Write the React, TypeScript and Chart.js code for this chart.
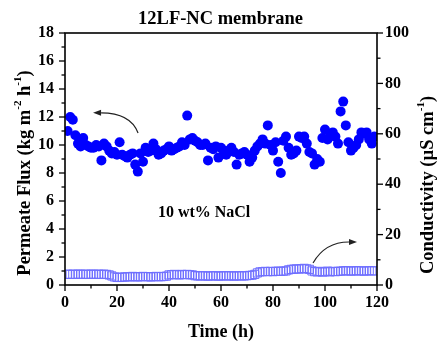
import React, { useEffect, useRef } from 'react';
import { Chart, registerables } from 'chart.js';

Chart.register(...registerables);

const TITLE = '12LF-NC membrane';
const X_TITLE = 'Time (h)';
const X_TICKS = [0, 20, 40, 60, 80, 100, 120];
const FLUX_TICKS = [0, 2, 4, 6, 8, 10, 12, 14, 16, 18];
const COND_TICKS = [0, 20, 40, 60, 80, 100];
const ANNOTATION = '10 wt% NaCl';

const hours = [
  1, 2, 3, 4, 5, 6, 7, 8, 9, 10, 11, 12, 13, 14, 15, 16, 17, 18, 19, 20,
  21, 22, 23, 24, 25, 26, 27, 28, 29, 30, 31, 32, 33, 34, 35, 36, 37, 38, 39, 40,
  41, 42, 43, 44, 45, 46, 47, 48, 49, 50, 51, 52, 53, 54, 55, 56, 57, 58, 59, 60,
  61, 62, 63, 64, 65, 66, 67, 68, 69, 70, 71, 72, 73, 74, 75, 76, 77, 78, 79, 80,
  81, 82, 83, 84, 85, 86, 87, 88, 89, 90, 91, 92, 93, 94, 95, 96, 97, 98, 99, 100,
  101, 102, 103, 104, 105, 106, 107, 108, 109, 110, 111, 112, 113, 114, 115, 116, 117, 118, 119,
];

const flux = [
  11.0, 12.0, 11.8, 10.7, 10.1, 9.9, 10.5, 10.0, 9.9, 9.8, 9.8, 10.0, 9.9, 8.9, 10.1, 9.9, 9.6, 9.4, 9.5, 9.3,
  10.2, 9.3, 9.2, 9.1, 9.3, 9.4, 8.6, 8.1, 9.4, 8.8, 9.8, 9.5, 9.6, 10.1, 9.7, 9.3, 9.4, 9.6, 9.7, 9.9,
  9.6, 9.7, 9.8, 9.9, 10.2, 10.0, 12.1, 10.4, 10.5, 10.3, 10.2, 10.0, 10.0, 10.1, 8.9, 9.8, 9.7, 9.9, 9.1, 9.8,
  9.6, 9.3, 9.6, 9.8, 9.5, 8.6, 9.3, 9.4, 9.5, 9.3, 8.8, 9.1, 9.6, 9.9, 10.1, 10.4, 10.1, 11.4, 10.0, 9.6,
  10.2, 8.8, 8.0, 10.3, 10.6, 9.8, 9.3, 9.4, 9.6, 10.6, 10.5, 10.6, 10.1, 9.5, 9.4, 8.6, 9.0, 8.8, 10.5, 11.1,
  10.4, 10.7, 10.9, 10.6, 10.1, 12.4, 13.1, 11.4, 10.2, 9.6, 9.8, 10.0, 10.4, 10.9, 10.8, 10.9, 10.4, 10.1, 10.6,
];

const conductivity = [
  4.3, 4.2, 4.3, 4.2, 4.3, 4.3, 4.2, 4.3, 4.2, 4.3, 4.3, 4.2, 4.3, 4.2, 4.3, 4.2, 4.0,
  3.6, 3.2, 3.0, 3.0,
  3.1, 3.2, 3.3, 3.2, 3.4, 3.3, 3.2, 3.3, 3.4, 3.3, 3.3, 3.2, 3.3, 3.4, 3.3, 3.3, 3.4, 3.5,
  4.0, 4.1, 4.2, 4.1, 4.0, 4.2, 4.1, 4.2, 4.1, 4.0,
  3.7, 3.6, 3.6, 3.7, 3.6, 3.5, 3.6, 3.7, 3.6, 3.5, 3.6, 3.7, 3.6, 3.6, 3.7, 3.5, 3.6, 3.7, 3.6, 3.6, 3.7, 3.8, 3.9, 4.2, 4.8,
  5.2, 5.3, 5.4, 5.3, 5.4, 5.3, 5.4, 5.5, 5.4, 5.5, 5.6,
  6.0, 6.2, 6.3, 6.4, 6.3, 6.5, 6.6, 6.4, 6.2,
  5.6, 5.3, 5.2, 5.4, 5.1, 5.3, 5.5, 5.2, 5.4, 5.3, 5.4, 5.5,
  5.6, 5.7, 5.6, 5.5, 5.6, 5.7, 5.6, 5.6, 5.5, 5.6, 5.7, 5.6, 5.6,
];

const FONT = '"Liberation Serif", "Times New Roman", serif';

type Seg = { t: string; sup?: boolean };
const LEFT_TITLE: Seg[] = [
  { t: 'Permeate Flux (kg m' }, { t: '-2', sup: true }, { t: ' h' }, { t: '-1', sup: true }, { t: ')' },
];
const RIGHT_TITLE: Seg[] = [
  { t: 'Conductivity (\u00b5S cm' }, { t: '-1', sup: true }, { t: ')' },
];

function drawRich(ctx: CanvasRenderingContext2D, segs: Seg[], cx: number, cy: number, size: number) {
  const main = `bold ${size}px ${FONT}`;
  const sup = `bold ${Math.round(size * 0.6)}px ${FONT}`;
  let total = 0;
  const widths = segs.map((s) => {
    ctx.font = s.sup ? sup : main;
    const w = ctx.measureText(s.t).width;
    total += w;
    return w;
  });
  ctx.save();
  ctx.translate(cx, cy);
  ctx.rotate(-Math.PI / 2);
  ctx.textBaseline = 'middle';
  ctx.textAlign = 'left';
  ctx.fillStyle = '#000';
  let x = -total / 2;
  segs.forEach((s, i) => {
    ctx.font = s.sup ? sup : main;
    ctx.fillText(s.t, x, s.sup ? -size * 0.38 : 0);
    x += widths[i];
  });
  ctx.restore();
}

const decorPlugin = {
  id: 'decor',
  afterDraw(chart: any) {
    const { ctx, chartArea: a, scales } = chart;
    const xs = scales.x, ys = scales.y, y2 = scales.y2;
    ctx.save();
    ctx.strokeStyle = '#000';
    ctx.lineWidth = 1.6;
    ctx.strokeRect(a.left, a.top, a.right - a.left, a.bottom - a.top);
    ctx.lineWidth = 1.3;
    const line = (x1: number, y1: number, x2: number, y2v: number) => {
      ctx.beginPath(); ctx.moveTo(x1, y1); ctx.lineTo(x2, y2v); ctx.stroke();
    };
    for (let v = 0; v <= 18; v += 1) {
      const y = ys.getPixelForValue(v);
      line(a.left - (v % 2 === 0 ? 6 : 3.5), y, a.left, y);
    }
    for (let v = 0; v <= 100; v += 10) {
      const y = y2.getPixelForValue(v);
      line(a.right, y, a.right + (v % 20 === 0 ? 6 : 3.5), y);
    }
    for (let v = 0; v <= 120; v += 10) {
      const x = xs.getPixelForValue(v);
      line(x, a.bottom, x, a.bottom + (v % 20 === 0 ? 6 : 3.5));
    }

    // arrows
    ctx.strokeStyle = '#222';
    ctx.fillStyle = '#222';
    ctx.lineWidth = 1.2;
    const arrow = (p0: number[], c: number[], p2: number[]) => {
      const P0 = [xs.getPixelForValue(p0[0]), ys.getPixelForValue(p0[1])];
      const C = [xs.getPixelForValue(c[0]), ys.getPixelForValue(c[1])];
      const P2 = [xs.getPixelForValue(p2[0]), ys.getPixelForValue(p2[1])];
      const ang = Math.atan2(P2[1] - C[1], P2[0] - C[0]);
      const L = 8, W = 3;
      const bx = P2[0] - L * Math.cos(ang), by = P2[1] - L * Math.sin(ang);
      ctx.beginPath(); ctx.moveTo(P0[0], P0[1]); ctx.quadraticCurveTo(C[0], C[1], bx, by); ctx.stroke();
      ctx.beginPath();
      ctx.moveTo(P2[0], P2[1]);
      ctx.lineTo(bx + W * Math.sin(ang), by - W * Math.cos(ang));
      ctx.lineTo(bx - W * Math.sin(ang), by + W * Math.cos(ang));
      ctx.closePath(); ctx.fill();
    };
    arrow([28.1, 10.86], [25.2, 12.3], [10.8, 12.3]);
    arrow([95.4, 1.57], [100, 3.07], [112.3, 3.07]);

    ctx.fillStyle = '#000';
    ctx.font = `bold 16px ${FONT}`;
    ctx.textAlign = 'center';
    ctx.textBaseline = 'middle';
    ctx.fillText(ANNOTATION, xs.getPixelForValue(53.5), ys.getPixelForValue(5.14));

    const midY = (a.top + a.bottom) / 2;
    drawRich(ctx, LEFT_TITLE, 25, midY + 14, 18.5);
    drawRich(ctx, RIGHT_TITLE, 428, midY + 26, 18.5);
    ctx.restore();
  },
};

export default function App() {
  const ref = useRef<HTMLCanvasElement | null>(null);
  useEffect(() => {
    document.body.style.margin = '0';
    if (!ref.current) return;
    const tickFont = { family: FONT, size: 16, weight: 'bold' as const };
    const chart = new Chart(ref.current, {
      type: 'scatter',
      data: {
        datasets: [
          {
            label: 'Flux',
            data: hours.map((h, i) => ({ x: h, y: flux[i] })),
            yAxisID: 'y',
            pointStyle: 'circle',
            pointRadius: 5,
            pointHoverRadius: 5,
            backgroundColor: '#0000ff',
            borderColor: '#0000ff',
            borderWidth: 0,
          },
          {
            label: 'Conductivity',
            data: hours.map((h, i) => ({ x: h, y: conductivity[i] })),
            yAxisID: 'y2',
            pointStyle: 'rect',
            pointRadius: 5.8,
            pointHoverRadius: 5.8,
            backgroundColor: 'rgba(0,0,0,0)',
            borderColor: '#7070ff',
            borderWidth: 1,
          },
        ],
      },
      options: {
        responsive: false,
        animation: false,
        events: [],
        layout: { padding: 0 },
        plugins: {
          legend: { display: false },
          tooltip: { enabled: false },
          title: {
            display: true,
            text: TITLE,
            color: '#000',
            font: { family: FONT, size: 18.5, weight: 'bold' },
            padding: { top: 8, bottom: 2.8 },
          },
        },
        scales: {
          x: {
            type: 'linear',
            min: 0,
            max: 120,
            grid: { display: false, drawTicks: false },
            border: { display: false },
            afterBuildTicks: (s: any) => { s.ticks = X_TICKS.map((v) => ({ value: v })); },
            ticks: { color: '#000', font: tickFont, padding: 8, maxRotation: 0 },
            title: {
              display: true,
              text: X_TITLE,
              color: '#000',
              font: { family: FONT, size: 18, weight: 'bold' },
              padding: { top: 0, bottom: 2 },
            },
            afterFit: (s: any) => { s.height = 60; },
          },
          y: {
            type: 'linear',
            position: 'left',
            min: 0,
            max: 18,
            grid: { display: false, drawTicks: false },
            border: { display: false },
            afterBuildTicks: (s: any) => { s.ticks = FLUX_TICKS.map((v) => ({ value: v })); },
            ticks: { color: '#000', font: tickFont, padding: 11 },
            afterFit: (s: any) => { s.width = 65; },
          },
          y2: {
            type: 'linear',
            position: 'right',
            min: 0,
            max: 100,
            grid: { display: false, drawTicks: false },
            border: { display: false },
            afterBuildTicks: (s: any) => { s.ticks = COND_TICKS.map((v) => ({ value: v })); },
            ticks: { color: '#000', font: tickFont, padding: 8 },
            afterFit: (s: any) => { s.width = 64; },
          },
        },
      },
      plugins: [decorPlugin],
    });
    return () => chart.destroy();
  }, []);
  return (
    <div style={{ position: 'fixed', left: 0, top: 0, width: 441, height: 345, background: '#fff' }}>
      <canvas ref={ref} width={441} height={345} style={{ display: 'block' }} />
    </div>
  );
}
